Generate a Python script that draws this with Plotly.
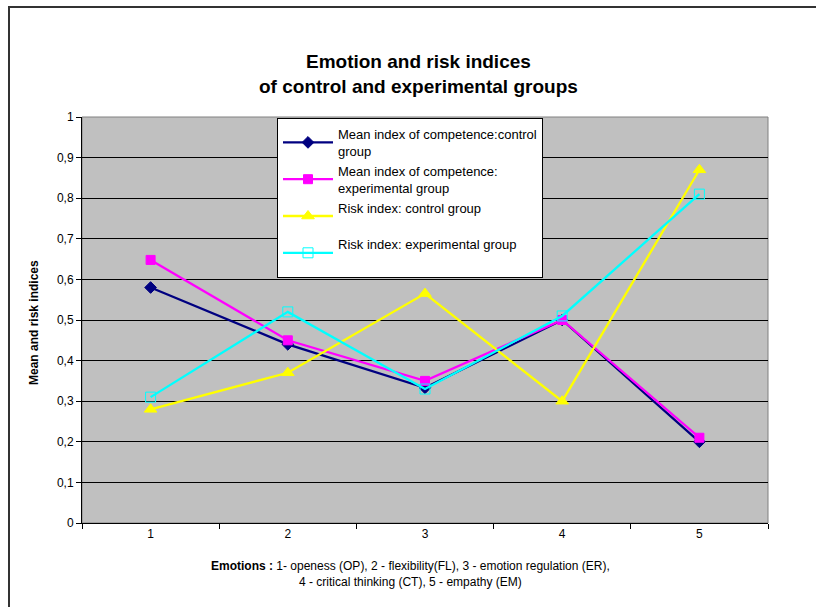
import plotly.graph_objects as go

categories = ["1", "2", "3", "4", "5"]
mean_control = [0.58, 0.44, 0.333, 0.50, 0.20]
mean_experimental = [0.648, 0.45, 0.35, 0.50, 0.21]
risk_control = [0.28, 0.37, 0.565, 0.30, 0.87]
risk_experimental = [0.31, 0.52, 0.33, 0.51, 0.81]

series_names = [
    "Mean index of competence:control<br>group",
    "Mean index of competence:<br>experimental group",
    "Risk index: control group<br> ",
    "Risk index: experimental group<br> ",
]
y_ticks = [0, 0.1, 0.2, 0.3, 0.4, 0.5, 0.6, 0.7, 0.8, 0.9, 1]

W, H = 816, 607
fig = go.Figure()
specs = [
    (mean_control, "#000080", "diamond", 9),
    (mean_experimental, "#FF00FF", "square", 9),
    (risk_control, "#FFFF00", "triangle-up", 11),
    (risk_experimental, "#00FFFF", "square-open", 10),
]
for name, (vals, col, sym, sz) in zip(series_names, specs):
    fig.add_trace(go.Scatter(
        x=categories, y=vals, name=name, mode="lines+markers",
        line=dict(color=col, width=2.3),
        marker=dict(symbol=sym, size=sz, color=col, line=dict(color=col, width=1)),
    ))

# plot area in screenshot coords: x 82..768, y 117..523
L, R, T, B = 82, W - 768, 117, H - 523
PW, PH = W - L - R, H - T - B

def px(xs):
    return (xs - L) / PW

def py(ys):
    return 1 - (ys - T) / PH

fig.update_layout(
    width=W, height=H,
    margin=dict(l=L, r=R, t=T, b=B),
    paper_bgcolor="white",
    plot_bgcolor="#C0C0C0",
    separators=", ",
    font=dict(family="Arial, Liberation Sans, sans-serif", size=12, color="black"),
    showlegend=True,
    legend=dict(
        x=px(277), y=py(118), xanchor="left", yanchor="top",
        bgcolor="white", bordercolor="black", borderwidth=1,
        font=dict(size=13, color="black"),
        itemwidth=50,
    ),
    xaxis=dict(
        type="category", tickson="boundaries", ticks="outside", ticklen=5,
        tickcolor="black", showline=True, linecolor="black", linewidth=1,
        showgrid=False, range=[-0.5, 4.5], tickfont=dict(size=12),
        zeroline=False,
    ),
    yaxis=dict(
        range=[0, 1], tickvals=y_ticks, ticks="outside", ticklen=5,
        tickcolor="black", showline=True, linecolor="black", linewidth=1,
        showgrid=True, gridcolor="black", gridwidth=1, zeroline=False,
        tickfont=dict(size=12),
    ),
    shapes=[
        dict(type="rect", xref="paper", yref="paper", x0=0, x1=1, y0=0, y1=1,
             line=dict(color="#808080", width=1), layer="below"),
        dict(type="rect", xref="paper", yref="paper",
             x0=px(9), x1=px(840), y0=py(640), y1=py(7),
             line=dict(color="#333333", width=2), fillcolor="rgba(0,0,0,0)"),
    ],
    annotations=[
        dict(text="<b>Emotion and risk indices<br>of control and experimental groups</b>",
             xref="paper", yref="paper", x=px(418), y=py(49),
             xanchor="center", yanchor="top",
             showarrow=False, font=dict(size=19), align="center"),
        dict(text="<b>Mean and risk indices</b>", textangle=-90,
             xref="paper", yref="paper", x=px(34), y=py(323),
             xanchor="center", yanchor="middle", showarrow=False, font=dict(size=12)),
        dict(text="<b>Emotions :</b> 1- openess (OP), 2 - flexibility(FL), 3 - emotion regulation (ER),<br>4 - critical thinking (CT), 5 - empathy (EM)",
             xref="paper", yref="paper", x=px(410), y=py(557),
             xanchor="center", yanchor="top",
             showarrow=False, font=dict(size=12), align="center"),
    ],
)

fig.write_html("out.html", config={"displayModeBar": False},
               post_script="document.body.style.margin='0';")
